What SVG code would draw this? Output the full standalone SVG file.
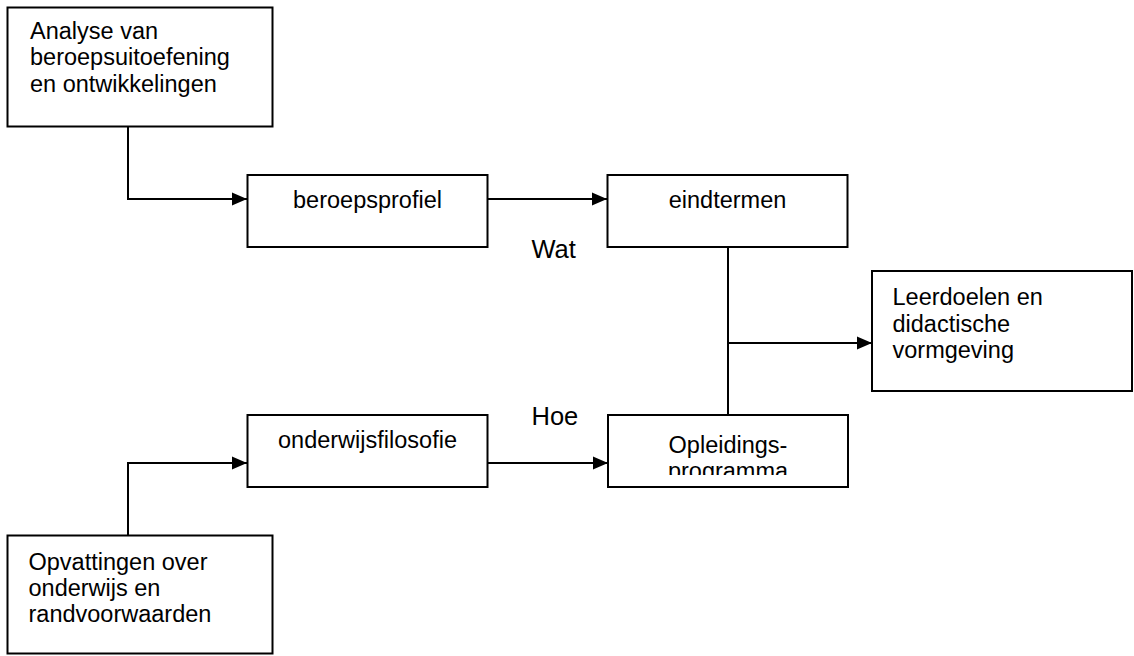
<svg xmlns="http://www.w3.org/2000/svg" width="1134" height="656" viewBox="0 0 1134 656">
<style>
.box{fill:#fff;stroke:#000;stroke-width:2}
.t{font-family:"Liberation Sans",Arial,sans-serif;font-size:23.5px;fill:#000}
.c{text-anchor:middle}
.ln{fill:none;stroke:#000;stroke-width:2}
</style>
<defs>
<marker id="arr" markerUnits="userSpaceOnUse" markerWidth="16" markerHeight="14" refX="15" refY="7" orient="auto">
<path d="M0,0.5 L15,7 L0,13.5 Z" fill="#000"/>
</marker>
<clipPath id="clipOpl"><rect x="600" y="410" width="260" height="65"/></clipPath>
</defs>
<rect width="1134" height="656" fill="#fff"/>
<g id="connectors">
<path class="ln" d="M128,127 V199 H247" marker-end="url(#arr)"/>
<path class="ln" d="M488,199 H607" marker-end="url(#arr)"/>
<path class="ln" d="M728,247 V415"/>
<path class="ln" d="M728,343 H872" marker-end="url(#arr)"/>
<path class="ln" d="M128,535 V463 H247" marker-end="url(#arr)"/>
<path class="ln" d="M488,463 H608" marker-end="url(#arr)"/>
</g>
<g id="analyse">
<rect class="box" x="7.5" y="7.5" width="265" height="119"/>
<text class="t" x="30" y="39">Analyse van</text>
<text class="t" x="30" y="65">beroepsuitoefening</text>
<text class="t" x="30" y="91.5">en ontwikkelingen</text>
</g>
<g id="beroepsprofiel">
<rect class="box" x="247.5" y="175" width="240" height="72"/>
<text class="t c" x="367.5" y="208">beroepsprofiel</text>
</g>
<g id="eindtermen">
<rect class="box" x="607.5" y="175" width="240" height="72"/>
<text class="t c" x="727.5" y="208">eindtermen</text>
</g>
<g id="label-wat">
<text class="t" x="531.5" y="258" style="font-size:25.5px">Wat</text>
</g>
<g id="leerdoelen">
<rect class="box" x="872" y="271" width="260" height="120"/>
<text class="t" x="892.5" y="305">Leerdoelen en</text>
<text class="t" x="892.5" y="331.5">didactische</text>
<text class="t" x="892.5" y="358">vormgeving</text>
</g>
<g id="label-hoe">
<text class="t" x="531.5" y="425" style="font-size:25.5px">Hoe</text>
</g>
<g id="onderwijsfilosofie">
<rect class="box" x="247.5" y="415" width="240" height="72"/>
<text class="t c" x="367.5" y="448">onderwijsfilosofie</text>
</g>
<g id="opleidingsprogramma">
<rect class="box" x="608" y="415" width="240" height="72"/>
<g clip-path="url(#clipOpl)">
<text class="t c" x="728" y="453">Opleidings-</text>
<text class="t c" x="728" y="479">programma</text>
</g>
</g>
<g id="opvattingen">
<rect class="box" x="7.5" y="535.5" width="265" height="118"/>
<text class="t" x="28.5" y="570">Opvattingen over</text>
<text class="t" x="28.5" y="596">onderwijs en</text>
<text class="t" x="28.5" y="622">randvoorwaarden</text>
</g>
</svg>
